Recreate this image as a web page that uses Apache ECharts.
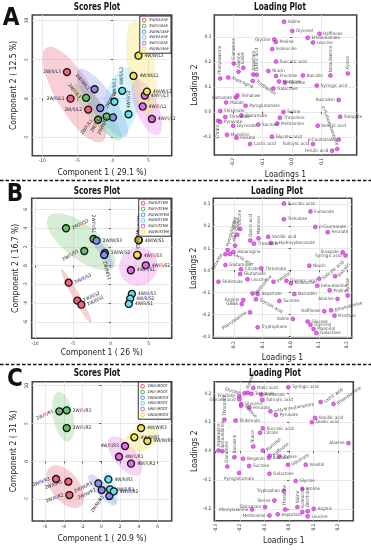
<!DOCTYPE html>
<html><head><meta charset="utf-8">
<script src="https://cdn.jsdelivr.net/npm/echarts@6/dist/echarts.min.js"></script>
<style>html,body{margin:0;padding:0;background:#fff}#c{width:371px;height:550px}</style>
</head><body><div id="c"></div><script>
// ================= DATA =================
// ---- Panel A (LEAF) scores ----
const scoreGroupsA = ['2W/B/LEAF','2W/R/LEAF','2W/W/LEAF','4W/B/LEAF','4W/R/LEAF','4W/W/LEAF'];
const scoreNamesA = [['2W/B/L3','2W/B/L1','2W/B/L2'],['2W/R/L3','2W/R/L1','2W/R/L2'],['2W/W/L3','2W/W/L1','2W/W/L2'],
  ['4W/B/L1','4W/B/L3','4W/B/L2'],['4W/R/L3','4W/R/L1','4W/R/L2'],['4W/W/L3','4W/W/L1','4W/W/L2']];
const scoreXA = [[-6.5,-6.0,-3.5],[-3.8,-2.1,-0.9],[-2.6,-1.8,0.0],[0.2,1.3,2.2],[4.5,4.2,5.5],[3.6,2.9,4.8]];
const scoreYA = [[3.4,0.0,-1.4],[0.1,-2.7,-2.3],[1.2,-1.2,-2.4],[-0.4,1.0,-2.0],[0.4,-1.0,-2.6],[5.5,2.9,0.9]];
// ellipse: centre x, centre y, half-axis 1 (dx,dy), half-axis 2 (dx,dy)
const ellipseA = [[-5.44,0.51,-3.93,5.99,2.2,1.17],[-2.23,-1.73,-3.33,3.53,0.98,0.75],[-1.51,-0.55,-3.33,4.27,1.4,0.88],
  [1.21,-0.55,1.07,4.49,2.37,-0.46],[4.79,-1.09,-1.55,3.53,1.46,0.52],[4.03,3.94,-1.11,5.99,1.83,0.27]];
const scoreTicksAX = [-10,-5,0,5];
const scoreTicksAY = [-5,0,5,10];
// ---- Panel A loadings ----
const loadNamesA = ['Valine','Glycerol','Raffinose','Ethanolamine','Leucine','Glycine','Proline','Isoleucine','Succinic acid',
  'Phenylalanine','Glutamine','Alanine','GABA','Asparagine','Aspartate','Quinic acid','Tryptophan','Niacin','Fructose','Mannose',
  'Glucose','Galactose','Baicalin','Syringic acid','beta-Alanine','Xylose','Fumarate','Trehalose','Malate','Pyroglutamate',
  'Baicalein','Shikimate','Serine','Glutamate','Threonate','Citrate','Pyruvate','Threonine','Methionine','Glycerate','Sucrose',
  'Vanillic acid','Sinapate','Mannitol','Inositol','Lactic acid','Glycolic acid','Salicylic acid','p-Coumarate','Ferulic acid','p-Hydroxy benzoate'];
const loadXA = [-0.027,0.001,0.093,0.053,0.071,-0.06,-0.055,-0.067,-0.054,
  -0.243,-0.197,-0.181,-0.165,-0.216,-0.131,-0.119,-0.133,-0.08,-0.054,-0.044,
  -0.024,-0.063,0.037,0.084,0.13,0.189,-0.19,-0.185,-0.223,-0.157,
  0.158,-0.243,-0.029,-0.171,-0.226,-0.25,-0.243,-0.041,-0.05,-0.199,-0.114,
  0.087,0.163,-0.22,-0.188,-0.142,-0.068,0.071,0.158,0.136,0.153];
const loadYA = [0.36,0.323,0.312,0.296,0.277,0.289,0.279,0.251,0.201,
  0.133,0.193,0.16,0.176,0.137,0.149,0.148,0.123,0.163,0.143,0.121,
  0.116,0.093,0.145,0.105,0.145,0.153,0.057,0.065,0.037,0.024,
  0.047,0.003,-0.001,-0.015,-0.021,-0.036,-0.04,-0.024,-0.047,-0.056,-0.051,
  -0.056,-0.02,-0.092,-0.104,-0.129,-0.1,-0.129,-0.111,-0.156,-0.149];
const loadTicksAX = [-0.2,-0.1,0,0.1];
const loadTicksAY = [-0.1,0,0.1,0.2,0.3];

// ---- Panel B (STEM) scores ----
const scoreGroupsB = ['2W/B/STEM','2W/R/STEM','2W/W/STEM','4W/B/STEM','4W/R/STEM','4W/W/STEM'];
const scoreNamesB = [['2W/B/S3','2W/B/S2','2W/B/S1'],['2W/R/S2','2W/R/S3','2W/R/S1'],['2W/W/S3','2W/W/S2','2W/W/S1'],
  ['4W/B/S3','4W/B/S2','4W/B/S1'],['4W/R/S3','4W/R/S2','4W/R/S1'],['4W/W/S1','4W/W/S2','4W/W/S3']];
const scoreXB = [[-5.55,-4.41,-3.88],[-5.9,-3.49,-2.26],[-1.87,-0.77,-0.86],[2.79,2.57,2.39],[3.57,4.63,2.66],[3.71,3.66,3.49]];
const scoreYB = [[-1.81,-3.72,-4.15],[3.98,1.56,2.84],[2.66,1.35,1.14],[-3.01,-3.51,-4.07],[1.08,0.04,-0.49],[2.7,2.74,1.15]];
const ellipseB = [[-4.56,-3.23,-1.95,2.84,0.4,0.18],[-3.9,2.55,-4.28,2.66,1.37,1.43],[-0.99,1.4,-1.27,1.68,0.45,0.22],
  null,[3.66,-0.11,2.5,0.3,-0.3,2.0],[3.44,1.22,0.22,1.87,0.12,-0.01]];
const scoreTicksBX = [-10,-5,0,5];
const scoreTicksBY = [-6,-4,-2,0,2,4,6];
// ---- Panel B loadings ----
const loadNamesB = ['Succinic acid','Fumarate','Trehalose','p-Coumarate','Ferulate','Glycine','Serine','Malic acid','Pyroglutamate',
  'Pyruvate','Asparagine','Lactic acid','Glutamine','Citrate','Glutamate','Leucine','Shikimate','Threonate','Quinic acid','Mannose',
  'Threonine','Vanillic acid','p-Hydroxybenzoate','Inositol','Glyceric acid','Isoleucine','Niacin','Sinapate','Syringic acid',
  'Salicylic acid','Baicalin','beta-Alanine','Proline','Xylose','Alanine','Baicalein','Sucrose','Methionine','Aspartate',
  'Glycolic acid','Arginin','GABA','Raffinose','Fructose','Ethanolamine','Valine','Glucose','Glycerol','Mannitol','Galactose',
  'Phenylalanine','Tryptophane'];
const loadXB = [-0.024,0.07,-0.024,0.087,0.131,-0.179,-0.189,-0.197,-0.223,
  -0.231,-0.203,-0.215,-0.231,-0.176,-0.179,-0.153,-0.256,-0.104,-0.143,-0.114,
  -0.13,-0.08,-0.07,-0.061,-0.015,0.001,0.066,0.184,0.194,
  0.101,0.157,0.094,0.138,0.202,0.166,0.013,-0.04,-0.135,-0.117,
  -0.123,-0.168,-0.173,0.119,0.155,0.143,0.008,0.06,0.07,0.081,0.091,
  -0.144,-0.117];
const loadYB = [0.303,0.267,0.232,0.197,0.173,0.188,0.161,0.112,0.092,
  0.073,0.083,0.074,0.024,0.005,-0.017,-0.041,-0.052,0.009,0.135,0.145,
  0.121,0.152,0.124,-0.052,-0.048,-0.059,0.021,0.082,0.067,
  -0.039,-0.027,-0.07,-0.091,-0.115,-0.13,-0.108,-0.139,-0.105,-0.108,
  -0.132,-0.135,-0.153,-0.186,-0.206,-0.182,-0.221,-0.233,-0.248,-0.267,-0.285,
  -0.191,-0.259];
const loadTicksBX = [-0.2,-0.1,0,0.1,0.2];
const loadTicksBY = [-0.3,-0.2,-0.1,0,0.1,0.2,0.3];

// ---- Panel C (ROOT) scores ----
const scoreGroupsC = ['2W/B/ROOT','2W/R/ROOT','2W/W/ROOT','4W/B/ROOT','4W/R/ROOT','4W/W/ROOT'];
const scoreNamesC = [['2W/B/R3','2W/B/R1','2W/B/R2'],['2W/R/R1','2W/R/R3','2W/R/R2'],['2W/W/R3','2W/W/R2','2W/W/R1'],
  ['4W/B/R3','4W/B/R1','4W/B/R2'],['4W/R/R3','4W/R/R1','4W/R/R2'],['4W/W/R3','4W/W/R1','4W/W/R2']];
const scoreXC = [[-4.82,-3.51,-3.4],[-4.47,-3.69,-3.69],[-0.32,0.04,0.85],[0.75,0.93,1.32],[2.52,1.88,3.16],[4.23,3.51,4.9]];
const scoreYC = [[-2.32,-2.68,-4.44],[6.62,6.75,4.41],[-2.9,-3.78,-4.57],[-2.37,-3.69,-3.95],[2.03,0.62,-0.3],[4.41,3.18,2.69]];
const ellipseC = [[-3.83,-3.34,-1.63,2.56,1.17,1.15],[-4.05,5.9,-0.53,3.23,1.04,0.26],[0.11,-3.78,-1.42,1.98,0.48,0.53],
  [1.0,-3.47,-0.57,2.11,0.51,0.21],[2.52,0.71,-1.6,2.38,0.85,1.0],[4.2,2.92,1.7,0.87,0.49,-1.45]];
const scoreTicksCX = [-6,-4,-2,0,2,4,6];
const scoreTicksCY = [-5,0,5,10];
// ---- Panel C loadings ----
const loadNamesC = ['Malic acid','Syringic acid','Lactic acid','Ethanolamine','Trehalose','Fumarate','Salicylic acid','Glucose',
  'Mannose','Fructose','Glycolic acid','Glycerol','Maltose','Ferulate','p-Hydroxybenzoate','Pyruvate','Threonate','Shikimate',
  'Vanillic acid','Quinic acid','Succinic acid','Citrate','Niacin','Alanine','Asparagine','beta-Alanine','Glutamine','Baicalein',
  'Wogonin','Sucrose','Pyroglutamate','Mannitol','Raffinose','Xylose','Baicalin','Glycerate','Inositol','Galactose','Glycine',
  'Proline','Tryptophan','Threonine','Valine','Isoleucine','Ornithine','Arginin','Serine','Glutamate','Phenylalanine',
  'Aspartate','Leucine','Methionine'];
const loadXC = [-0.146,-0.003,0.129,0.181,-0.154,-0.113,-0.109,-0.182,
  -0.169,-0.203,-0.203,-0.195,-0.196,-0.162,-0.076,-0.054,-0.264,-0.218,
  0.106,0.093,-0.107,-0.118,-0.146,0.242,-0.288,-0.272,-0.252,-0.223,
  -0.188,-0.163,-0.204,-0.107,-0.079,-0.039,-0.082,-0.005,0.068,-0.08,0.027,
  0.054,-0.022,-0.016,0.034,0.054,0.076,0.101,-0.06,-0.098,-0.151,
  -0.046,0.076,-0.08];
const loadYC = [0.218,0.221,0.17,0.163,0.198,0.195,0.177,0.2,
  0.202,0.19,0.179,0.163,0.157,0.151,0.138,0.125,0.109,0.106,
  0.115,0.1,0.079,0.064,0.016,0.028,0.002,0.0,-0.053,-0.021,
  -0.026,-0.051,-0.075,0.002,-0.016,-0.018,-0.023,-0.047,-0.047,-0.078,-0.103,
  -0.13,-0.137,-0.201,-0.193,-0.21,-0.207,-0.199,-0.17,-0.193,-0.201,
  -0.218,-0.225,-0.222];
const loadTicksCX = [-0.3,-0.2,-0.1,0,0.1,0.2];
const loadTicksCY = [-0.2,-0.1,0,0.1,0.2];

// ================= LABEL PLACEMENT (style only) =================
const scoreLabA = [['l','l','l'],['l:-50','l:55','l:60'],['l:-50','r:60','l:65'],['u','u','u'],['r','r','r'],['r','r','r']];
const scoreLabB = [['r:25','r:25','r:25'],['r:25','l:30','U'],['r','r','D:-75'],['r','r','r'],['r','r','r'],['r','U','U']];
const scoreLabC = [['l:20','l:20','l:20'],['l:25','r','r'],['l:25','l:25','l:55'],['r','r','r'],['l','r','r'],['r','r','r']];
const loadLabA = {'Glycine':'l','Phenylalanine':'u','Glutamine':'u','Alanine':'u','GABA':'u','Aspartate':'u','Quinic acid':'u',
  'Asparagine':'r:-25','Tryptophan':'r:-35','beta-Alanine':'u','Xylose':'u','Fumarate':'l','Baicalein':'l','Citrate':'d',
  'Salicylic acid':'l','p-Coumarate':'l','Ferulic acid':'l','p-Hydroxy benzoate':'U:-70'};
const loadLabB = {'Glycine':'u','Serine':'u','Malic acid':'u','Pyroglutamate':'u:75','Pyruvate':'l:60','Lactic acid':'r:-30',
  'Quinic acid':'u','Mannose':'u','Inositol':'r:35','Salicylic acid':'r:40','Baicalin':'r:50','Sinapate':'l','Syringic acid':'l',
  'Xylose':'u','Alanine':'l','Methionine':'r:50','Glycolic acid':'r:-30','Arginin':'l','GABA':'l','Raffinose':'l',
  'Ethanolamine':'r:15','Valine':'l','Phenylalanine':'l:35'};
const loadLabC = {'Lactic acid':'r:35','Ethanolamine':'r:35','Glucose':'l:-15','Mannose':'u:70','Fructose':'l','Glycolic acid':'l',
  'Maltose':'r:-45','p-Hydroxybenzoate':'r:10','Threonate':'u','Niacin':'u','Alanine':'l','Asparagine':'u','beta-Alanine':'u',
  'Glutamine':'u','Baicalein':'u','Pyroglutamate':'b','Mannitol':'r:40','Raffinose':'r:40','Glycerate':'r:30','Tryptophan':'l',
  'Threonine':'u','Valine':'u','Isoleucine':'u','Ornithine':'u','Serine':'l','Glutamate':'l','Phenylalanine':'l','Methionine':'l'};

// ================= STYLE =================
const FONT = '"DejaVu Sans Condensed","Liberation Sans Narrow","DejaVu Sans",sans-serif';
const groupColors = ['#f2607c','#62c462','#7f8df0','#62e2f2','#e66ae6','#f5e04a'];
const ellipseFills = ['rgba(236,110,130,0.33)','rgba(120,200,120,0.30)','rgba(120,132,232,0.28)','rgba(110,222,242,0.30)','rgba(236,110,236,0.30)','rgba(248,228,110,0.38)'];
function mkRich(fs){ return {
  b:{color:'#2f4cf0',fontSize:fs,fontFamily:FONT},
  r:{color:'#f2501e',fontSize:fs,fontFamily:FONT},
  w:{color:'#222',fontSize:fs,fontFamily:FONT}}; }
const rich = mkRich(4.7), richLeg = mkRich(3.9);
function richName(n){ const p=n.split('/'); const k=p[1]==='B'?'b':(p[1]==='R'?'r':'w'); return p[0]+'/{'+k+'|'+p[1]+'}/'+p.slice(2).join('/'); }
function lab(code){
  code = code || 'r';
  const [c, r] = code.split(':'); const rot = r!==undefined ? Number(r) : null;
  switch(c){
    case 'l': return {position:'left', rotate:rot||0, align:'right', verticalAlign:'middle'};
    case 'u': return {position:'top', rotate:rot===null?90:rot, align:'left', verticalAlign:'middle'};
    case 'U': return {position:'top', rotate:rot===null?-90:rot, align:'right', verticalAlign:'middle'};
    case 'd': return {position:'bottom', rotate:90, align:'right', verticalAlign:'middle'};
    case 'D': return {position:'bottom', rotate:rot===null?-90:rot, align:'left', verticalAlign:'middle'};
    case 'b': return {position:'bottom', rotate:0, align:'center', verticalAlign:'top'};
    default: return {position:'right', rotate:rot||0, align:'left', verticalAlign:'middle'};
  }
}

const grids = [
  {left:32.3, top:15, width:139.4, height:140.7},
  {left:214.3, top:15, width:142.4, height:140},
  {left:31.7, top:198.3, width:140, height:140},
  {left:213.3, top:198.3, width:138.4, height:140},
  {left:32.3, top:381.7, width:139.4, height:139.3},
  {left:214.3, top:381.7, width:139, height:139}
];
const axisSpec = [
  {xr:[-11.4,8.3], yr:[-7.3,10.7], xt:scoreTicksAX, yt:scoreTicksAY, xn:'Component 1 ( 29.1 %)', yn:'Component 2 ( 12.5 %)', kind:'s', xg:12.5, yg:14},
  {xr:[-0.263,0.219], yr:[-0.173,0.387], xt:loadTicksAX, yt:loadTicksAY, xn:'Loadings 1', yn:'Loadings 2', kind:'l', xg:14, yg:14.5},
  {xr:[-10.43,8.05], yr:[-7.73,7.17], xt:scoreTicksBX, yt:scoreTicksBY, xn:'Component 1 ( 26 %)', yn:'Component 2 ( 16.7 %)', kind:'s', xg:10, yg:11},
  {xr:[-0.274,0.216], yr:[-0.309,0.327], xt:loadTicksBX, yt:loadTicksBY, xn:'Loadings 1', yn:'Loadings 2', kind:'l', xg:12, yg:14.5},
  {xr:[-7.35,7.49], yr:[-7.87,10.53], xt:scoreTicksCX, yt:scoreTicksCY, xn:'Component 1 ( 20.9 %)', yn:'Component 2 ( 31 %)', kind:'s', xg:13.5, yg:14},
  {xr:[-0.305,0.262], yr:[-0.24,0.24], xt:loadTicksCX, yt:loadTicksCY, xn:'Loadings 1', yn:'Loadings 2', kind:'l', xg:15.5, yg:14.5}
];
const xAxes = [], yAxes = [];
axisSpec.forEach((a,i)=>{
  const fmt = a.kind==='s' ? (v=>String(v)) : (v=>v.toFixed(1));
  const base = ()=>({gridIndex:i, type:'value', axisLine:{show:false},
    splitLine:{show:true, lineStyle:{color:'#e3e3e3', width:0.8}},
    nameLocation:'middle', nameTextStyle:{fontFamily:FONT, fontSize:8.5, color:'#222'}});
  xAxes.push(Object.assign(base(), {min:a.xr[0], max:a.xr[1], name:a.xn, nameGap:a.xg,
    axisTick:{show:true, length:2, customValues:a.xt, lineStyle:{color:'#333', width:0.8}},
    axisLabel:{customValues:a.xt, formatter:fmt, fontSize:4.8, fontFamily:FONT, color:'#333', margin:3, rotate:a.kind==='l'?90:0}}));
  yAxes.push(Object.assign(base(), {min:a.yr[0], max:a.yr[1], name:a.yn, nameGap:a.yg,
    axisTick:{show:true, length:2, customValues:a.yt, lineStyle:{color:'#333', width:0.8}},
    axisLabel:{customValues:a.yt, formatter:fmt, fontSize:4.8, fontFamily:FONT, color:'#333', margin:3, rotate:a.kind==='s'?90:0}}));
});

const series = [];
function addScores(gi, groups, names, xs, ys, ells, labs){
  groups.forEach((g,k)=>{
    if (ells[k]) {
      series.push({type:'custom', name:'ell '+g, xAxisIndex:gi, yAxisIndex:gi, z:1, silent:true,
        data:[ells[k]], encode:{x:0, y:1},
        renderItem:(p, api)=>{
          const cx=api.value(0), cy=api.value(1), ux=api.value(2), uy=api.value(3), vx=api.value(4), vy=api.value(5);
          const pts=[];
          for (let s=0;s<90;s++){ const t=s/90*2*Math.PI;
            pts.push(api.coord([cx+ux*Math.cos(t)+vx*Math.sin(t), cy+uy*Math.cos(t)+vy*Math.sin(t)])); }
          return {type:'polygon', shape:{points:pts}, style:{fill:ellipseFills[k], stroke:'rgba(0,0,0,0.06)', lineWidth:0.5},
            clipPath:{type:'rect', shape:{x:p.coordSys.x, y:p.coordSys.y, width:p.coordSys.width, height:p.coordSys.height}}};
        }});
    }
    series.push({type:'scatter', name:g, xAxisIndex:gi, yAxisIndex:gi, z:4, symbol:'circle', symbolSize:7,
      itemStyle:{color:groupColors[k], borderColor:'#141414', borderWidth:1.3, opacity:1},
      label:{show:true, fontSize:4.7, fontFamily:FONT, color:'#222', distance:2, rich:rich, formatter:p=>richName(p.name)},
      labelLayout:{hideOverlap:false},
      data:names[k].map((n,j)=>({name:n, value:[xs[k][j], ys[k][j]], label:lab(labs[k][j])}))});
  });
}
function addLoadings(gi, names, xs, ys, labs){
  series.push({type:'scatter', name:'load'+gi, xAxisIndex:gi, yAxisIndex:gi, z:4, symbol:'circle', symbolSize:4,
    itemStyle:{color:'#e03fe6', borderColor:'#a51fae', borderWidth:0.6},
    label:{show:true, fontSize:4.6, fontFamily:FONT, color:'#222', distance:1.5, formatter:p=>p.name},
    data:names.map((n,j)=>({name:n, value:[xs[j], ys[j]], label:lab(labs[n])}))});
}
addScores(0, scoreGroupsA, scoreNamesA, scoreXA, scoreYA, ellipseA, scoreLabA);
addLoadings(1, loadNamesA, loadXA, loadYA, loadLabA);
addScores(2, scoreGroupsB, scoreNamesB, scoreXB, scoreYB, ellipseB, scoreLabB);
addLoadings(3, loadNamesB, loadXB, loadYB, loadLabB);
addScores(4, scoreGroupsC, scoreNamesC, scoreXC, scoreYC, ellipseC, scoreLabC);
addLoadings(5, loadNamesC, loadXC, loadYC, loadLabC);

function legendFor(groups, top){
  return {right:200, top:top, orient:'vertical', selectedMode:false, z:10, align:'left',
    data:groups.map((g,k)=>({name:g, icon:'circle', itemStyle:{color:'#fff', borderColor:groupColors[k], borderWidth:1.1}})),
    itemWidth:3.6, itemHeight:3.6, itemGap:1.0, padding:[2,2,2,2], borderColor:'#333', borderWidth:1, backgroundColor:'#fff',
    textStyle:{fontSize:3.9, fontFamily:FONT, color:'#222', rich:richLeg, padding:[0,0,0,-2]}, formatter:n=>richName(n)};
}

function txt(t, x, y, size, weight, sx){
  return {type:'text', x:x, y:y, z:20, scaleX:sx||1, style:{text:t, fontFamily:FONT, fontSize:size, fontWeight:weight||'bold', fill:'#111', align:'center', verticalAlign:'middle'}};
}
const graphics = [
  txt('A', 11, 19, 24, 'bold'), txt('B', 15, 195, 24, 'bold'), txt('C', 15, 380, 24, 'bold'),
  txt('Scores Plot', 97, 7.5, 11, 'bold', 0.74), txt('Loading Plot', 280, 7.5, 11, 'bold', 0.74),
  txt('Scores Plot', 97, 191, 11, 'bold', 0.74), txt('Loading Plot', 277, 191, 11, 'bold', 0.74),
  txt('Scores Plot', 97, 373, 11, 'bold', 0.74), txt('Loading Plot', 275, 373, 11, 'bold', 0.74),
  {type:'line', shape:{x1:0,y1:180.5,x2:371,y2:180.5}, style:{stroke:'#111', lineWidth:1.5, lineDash:[3.5,2]}},
  {type:'line', shape:{x1:0,y1:364.5,x2:371,y2:364.5}, style:{stroke:'#111', lineWidth:1.5, lineDash:[3.5,2]}}
];

const chart = echarts.init(document.getElementById('c'), null, {renderer:'canvas'});
chart.setOption({
  animation:false,
  backgroundColor:'#fff',
  grid: grids.map(g=>Object.assign({show:true, borderColor:'#444', borderWidth:1.6, backgroundColor:'#fff', containLabel:false}, g)),
  xAxis:xAxes, yAxis:yAxes,
  legend:[legendFor(scoreGroupsA,16), legendFor(scoreGroupsB,199), legendFor(scoreGroupsC,382)],
  series:series,
  graphic:graphics
});
</script></body></html>
